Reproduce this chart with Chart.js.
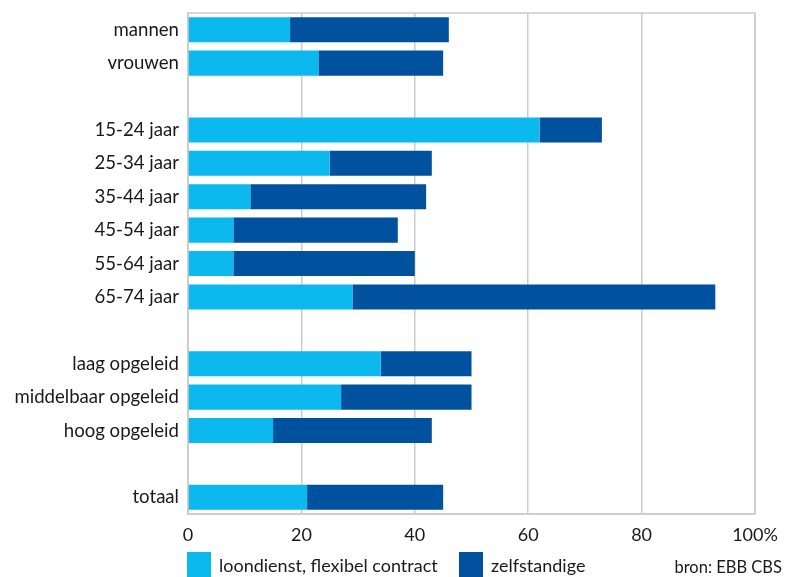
<!DOCTYPE html>
<html>
<head>
<meta charset="utf-8">
<script src="https://cdn.jsdelivr.net/npm/chart.js@4.4.1/dist/chart.umd.min.js"></script>
<style>
  html, body { margin: 0; padding: 0; background: #fff; }
  #wrap { position: relative; width: 787px; height: 577px; font-family: Lato, sans-serif; color: #1a1a1a; }
  #wrap canvas { position: absolute; left: 0; top: 0; }
  .leg { position: absolute; top: 552px; height: 25px; display: flex; align-items: center; font-size: 18px; }
  .sw { width: 24px; height: 25px; margin-right: 8px; }
  #bron { position: absolute; right: 5px; top: 557px; font-size: 16.5px; }
</style>
</head>
<body>
<div id="wrap">
  <canvas id="chart" width="787" height="577"></canvas>
  <div class="leg" style="left:187px"><div class="sw" style="background:#0cb9ee"></div>loondienst, flexibel contract</div>
  <div class="leg" style="left:459px"><div class="sw" style="background:#00519e"></div>zelfstandige</div>
  <div id="bron">bron: EBB CBS</div>
</div>
<script>
// categorieën (lege regels als scheiding tussen groepen)
const categories = [
  'mannen', 'vrouwen', '',
  '15-24 jaar', '25-34 jaar', '35-44 jaar', '45-54 jaar', '55-64 jaar', '65-74 jaar', '',
  'laag opgeleid', 'middelbaar opgeleid', 'hoog opgeleid', '',
  'totaal'
];

// loondienst, flexibel contract (%)
const flexibel = [18, 23, null, 62, 25, 11, 8, 8, 29, null, 34, 27, 15, null, 21];

// zelfstandige (%)
const zelfstandig = [28, 22, null, 11, 18, 31, 29, 32, 64, null, 16, 23, 28, null, 24];

const xTicks = [0, 20, 40, 60, 80, 100];

const fontFamily = 'Lato, sans-serif';
const gridColor = '#cccccc';

// kader rond het plotgebied (boven- en rechterlijn)
const frame = {
  id: 'frame',
  beforeDatasetsDraw(chart) {
    const { ctx, chartArea: a } = chart;
    ctx.save();
    ctx.strokeStyle = gridColor;
    ctx.lineWidth = 1.5;
    ctx.strokeRect(a.left, a.top, a.right - a.left, a.bottom - a.top);
    ctx.restore();
  }
};

new Chart(document.getElementById('chart'), {
  type: 'bar',
  data: {
    labels: categories,
    datasets: [
      { label: 'loondienst, flexibel contract', data: flexibel, backgroundColor: '#0cb9ee' },
      { label: 'zelfstandige', data: zelfstandig, backgroundColor: '#00519e' }
    ]
  },
  options: {
    indexAxis: 'y',
    responsive: false,
    animation: false,
    categoryPercentage: 1,
    barPercentage: 0.75,
    layout: { padding: { top: 13, right: 32, left: 0, bottom: 0 } },
    scales: {
      x: {
        stacked: true,
        min: 0,
        max: 100,
        afterBuildTicks: (scale) => { scale.ticks = xTicks.map(v => ({ value: v })); },
        afterFit: (scale) => { scale.height = 63; scale.paddingLeft = 0; scale.paddingRight = 0; },
        grid: { color: gridColor, lineWidth: 1.5, drawTicks: false },
        border: { color: gridColor, width: 1.5 },
        ticks: {
          padding: 10,
          color: '#1a1a1a',
          font: { family: fontFamily, size: 18 },
          callback: (v) => v === 100 ? '100%' : v
        }
      },
      y: {
        stacked: true,
        afterFit: (scale) => { scale.width = 188; scale.paddingTop = 0; scale.paddingBottom = 0; },
        grid: { display: false, drawTicks: false },
        border: { color: gridColor, width: 1.5 },
        ticks: {
          padding: 9,
          color: '#1a1a1a',
          font: { family: fontFamily, size: 18.6 }
        }
      }
    },
    plugins: {
      legend: { display: false },
      tooltip: { enabled: false }
    }
  },
  plugins: [frame]
});
</script>
</body>
</html>
